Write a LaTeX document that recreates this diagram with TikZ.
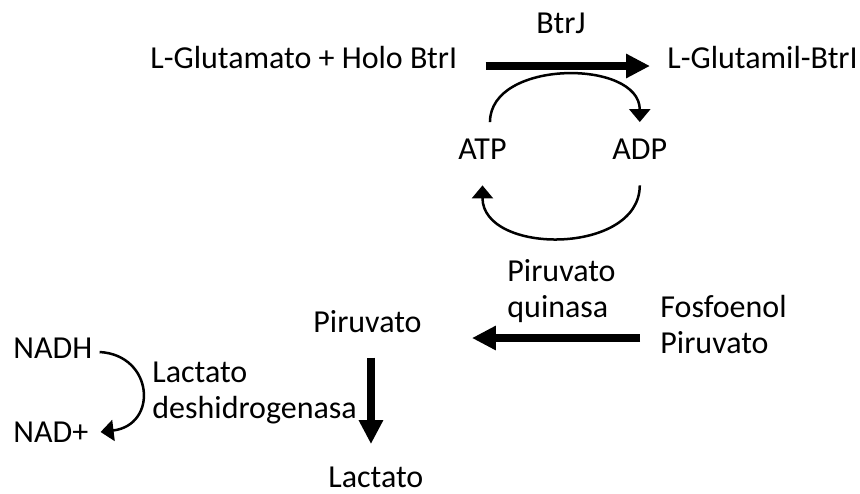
\documentclass[tikz,border=0pt]{standalone}
\usepackage{fontspec}
\setmainfont{Carlito}
\usetikzlibrary{arrows.meta}

\begin{document}
\begin{tikzpicture}[x=0.5pt,y=-0.5pt]
    \tikzstyle{lbl}=[inner sep=0pt,anchor=base west,align=left,font=\fontsize{16}{17.75}\selectfont]
    \tikzstyle{big arrow}=[line width=4pt,-{Triangle[length=12pt,width=11.5pt]}]
    \tikzstyle{cycle arrow}=[line width=1.25pt,-{Triangle[length=6.5pt,width=10.5pt]}]
    \useasboundingbox (0,0) rectangle (860,493);

    % Draw the BtrJ reaction
    \node[lbl] (glu) at (150,68) {L-Glutamato + Holo BtrI};
    \node[lbl] (btrj) at (536,33) {BtrJ};
    \node[lbl] (glumil) at (667,68) {L-Glutamil-BtrI};
    \draw[big arrow] ([shift={(14pt,1pt)}]glu.base east) -- ([shift={(-8.5pt,1pt)}]glumil.base west);

    % ATP / ADP cycle
    \node[lbl] (atp) at (458,159) {ATP};
    \node[lbl] (adp) at (612,159) {ADP};
    \draw[cycle arrow] ([shift={(3.75pt,8pt)}]atp.north) to[out=90,in=90,looseness=1.08] ([yshift=8pt]adp.north);
    \draw[cycle arrow] ([yshift=-13pt]adp.south) to[out=-90,in=-90,looseness=1.14] ([yshift=-13pt]atp.south);

    % Piruvato quinasa (base = last line)
    \node[lbl] (pk) at (507,317) {Piruvato\\quinasa};
    \node[lbl] (pep) at (660,353) {Fosfoenol\\Piruvato};
    \node[lbl] (piru) at (313,332) {Piruvato};
    \draw[big arrow] ([shift={(-10pt,-3pt)}]pep.west |- piru.base) -- ([shift={(25pt,-3pt)}]piru.base east);

    % Lactato deshidrogenasa
    \node[lbl] (lact) at (328,487) {Lactato};
    \draw[big arrow] ([shift={(1.75pt,-12.5pt)}]piru.south) -- ([shift={(1.75pt,11pt)}]piru.south |- lact.north);
    \node[lbl] (ldh) at (152,418) {Lactato\\deshidrogenasa};
    \node[lbl] (nadh) at (13,358) {NADH};
    \node[lbl] (nad) at (13,442) {NAD+};
    \draw[cycle arrow] ([shift={(3.5pt,3pt)}]nadh.base east) .. controls +(27pt,-1.5pt) and +(29pt,3.5pt) .. ([shift={(6pt,5pt)}]nad.base east);
\end{tikzpicture}
\end{document}
